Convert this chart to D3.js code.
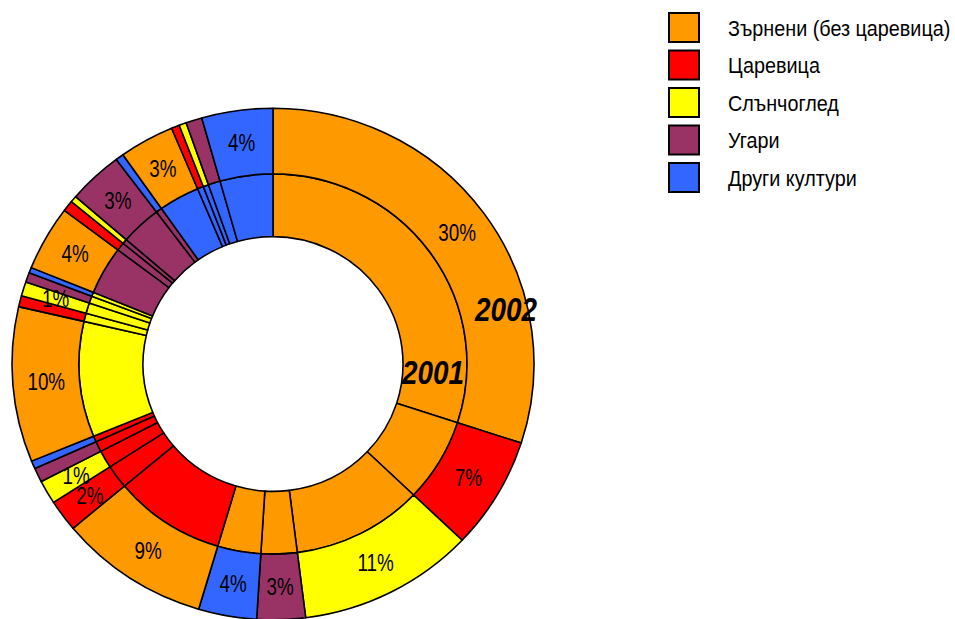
<!DOCTYPE html>
<html>
<head>
<meta charset="utf-8">
<script src="https://d3js.org/d3.v7.min.js"></script>
<style>
  body { margin: 0; background: #fff; }
  text { font-family: "Liberation Sans Narrow", "Arial Narrow", "Liberation Sans", Arial, sans-serif; }
</style>
</head>
<body>
<div id="chart"></div>
<script>

// crops (2002 = outer ring colour, 2001 = inner ring colour)
const crops = ["Зърнени (без царевица)", "Царевица", "Слънчоглед", "Угари", "Други култури"];
const cropColors = ["#FF9900", "#FF0000", "#FFFF00", "#993366", "#3366FF"];

// share of area (%) by crop in 2001 -> crop in 2002
const fromGrains    = [30.0, 7.1, 10.9, 3.0, 3.6];
const fromMaize     = [9.3, 2.0, 1.5, 0.9, 0.5];
const fromSunflower = [9.8, 0.7, 0.9, 0.6, 0.35];
const fromFallow    = [4.1, 0.7, 0.4, 3.4, 0.5];
const fromOther     = [3.4, 0.5, 0.45, 1.0, 4.4];

// labels that are shown on the outer ring
const pctLabels = [
  "30%", "7%", "11%", "3%", "4%",
  "9%", "2%", "1%", "", "",
  "10%", "", "1%", "", "",
  "4%", "", "", "3%", "",
  "3%", "", "", "", "4%"
];

const groups = [fromGrains, fromMaize, fromSunflower, fromFallow, fromOther];

// one slice per (2001 crop, 2002 crop) pair
const slices = [];
groups.forEach((vals, g) => {
  vals.forEach((v, c) => slices.push({from: g, to: c, value: v}));
});
slices.forEach((d, i) => d.label = pctLabels[i]);

const width = 955, height = 619;
const cx = 273, cy = 364, squash = 0.98;
const rHole = 130, rMid = 194, rOuter = 261;
const narrow = 0.82; // no narrow font installed, squeeze the text instead

const svg = d3.select("#chart").append("svg")
    .attr("width", width)
    .attr("height", height);

const pie = d3.pie().sort(null).value(d => d.value);
const arcs = pie(slices);

const innerArc = d3.arc().innerRadius(rHole).outerRadius(rMid);
const outerArc = d3.arc().innerRadius(rMid).outerRadius(rOuter);

const rings = svg.append("g")
    .attr("transform", `translate(${cx},${cy}) scale(1,${squash})`);

// 2001 ring
rings.append("g")
  .selectAll("path")
  .data(arcs)
  .join("path")
    .attr("d", innerArc)
    .attr("fill", d => cropColors[d.data.from])
    .attr("stroke", "#000")
    .attr("stroke-width", 1.6)
    .attr("stroke-linejoin", "round");

// 2002 ring
rings.append("g")
  .selectAll("path")
  .data(arcs)
  .join("path")
    .attr("d", outerArc)
    .attr("fill", d => cropColors[d.data.to])
    .attr("stroke", "#000")
    .attr("stroke-width", 1.6)
    .attr("stroke-linejoin", "round");

// percentage labels
svg.append("g")
  .selectAll("text")
  .data(arcs.filter(d => d.data.label))
  .join("text")
    .attr("transform", d => {
      const [x, y] = outerArc.centroid(d);
      return `translate(${cx + x},${cy + y * squash}) scale(${narrow},1)`;
    })
    .attr("text-anchor", "middle")
    .attr("dominant-baseline", "central")
    .style("font-size", "23px")
    .text(d => d.data.label);

// ring names
const ringNames = [["2002", 506, 310], ["2001", 433, 373]];
svg.append("g")
  .selectAll("text")
  .data(ringNames)
  .join("text")
    .attr("transform", d => `translate(${d[1]},${d[2]}) scale(${narrow},1)`)
    .attr("text-anchor", "middle")
    .attr("dominant-baseline", "central")
    .style("font-size", "34px")
    .style("font-weight", "bold")
    .style("font-style", "italic")
    .text(d => d[0]);

// legend
const legend = svg.append("g")
    .attr("transform", "translate(669,13)");

const item = legend.selectAll("g")
  .data(crops)
  .join("g")
    .attr("transform", (d, i) => `translate(0,${i * 37.5})`);

item.append("rect")
    .attr("width", 30)
    .attr("height", 29)
    .attr("fill", (d, i) => cropColors[i])
    .attr("stroke", "#000")
    .attr("stroke-width", 2);

item.append("text")
    .attr("transform", "translate(59,15) scale(0.9,1)")
    .attr("dominant-baseline", "central")
    .style("font-size", "22px")
    .text(d => d);

</script>
</body>
</html>
